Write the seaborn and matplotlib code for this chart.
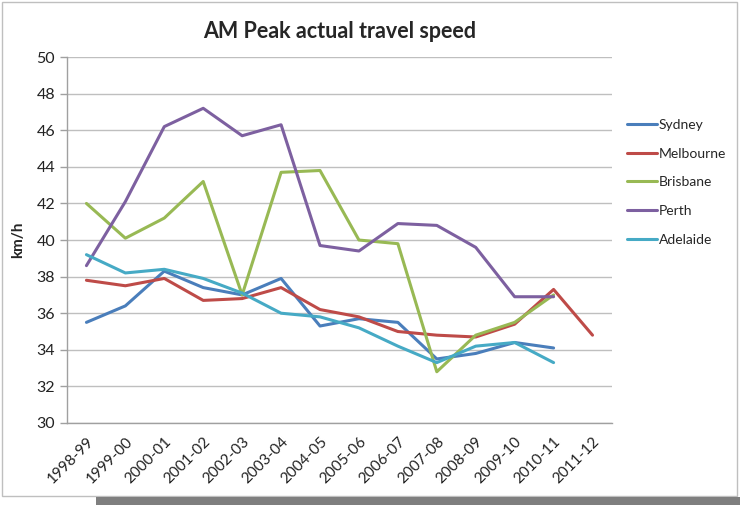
import matplotlib
matplotlib.use("Agg")
import matplotlib.pyplot as plt
import seaborn as sns
import pandas as pd
import numpy as np
from matplotlib.patches import Rectangle

years = ["1998-99", "1999-00", "2000-01", "2001-02", "2002-03", "2003-04", "2004-05",
         "2005-06", "2006-07", "2007-08", "2008-09", "2009-10", "2010-11", "2011-12"]

sydney = [35.5, 36.4, 38.3, 37.4, 37.0, 37.9, 35.3, 35.7, 35.5, 33.5, 33.8, 34.4, 34.1, None]
melbourne = [37.8, 37.5, 37.9, 36.7, 36.8, 37.4, 36.2, 35.8, 35.0, 34.8, 34.7, 35.4, 37.3, 34.8]
brisbane = [42.0, 40.1, 41.2, 43.2, 37.0, 43.7, 43.8, 40.0, 39.8, 32.8, 34.8, 35.5, 37.0, None]
perth = [38.6, 42.1, 46.2, 47.2, 45.7, 46.3, 39.7, 39.4, 40.9, 40.8, 39.6, 36.9, 36.9, None]
adelaide = [39.2, 38.2, 38.4, 37.9, 37.1, 36.0, 35.8, 35.2, 34.2, 33.3, 34.2, 34.4, 33.3, None]

cities = ["Sydney", "Melbourne", "Brisbane", "Perth", "Adelaide"]
series = [sydney, melbourne, brisbane, perth, adelaide]
colors = ["#4A7EBB", "#BE4B48", "#98B954", "#7D60A0", "#46AAC5"]

rows = []
for city, vals in zip(cities, series):
    for i, v in enumerate(vals):
        if v is not None:
            rows.append({"idx": i, "year": years[i], "city": city, "speed": v})
df = pd.DataFrame(rows)

sns.set_theme(style="white")
plt.rcParams['font.family'] = ['Lato', 'DejaVu Sans']

fig = plt.figure(figsize=(7.4, 5.05), dpi=100)
fig.patch.set_facecolor("white")
ax = fig.add_axes([0.0905, 0.1624, 0.7365, 0.7246])

sns.lineplot(data=df, x="idx", y="speed", hue="city", hue_order=cities,
             palette=colors, linewidth=2.2, ax=ax, legend=True)

ax.set_xlim(-0.5, len(years) - 0.5)
ax.set_ylim(30, 50)
ax.set_yticks(np.arange(30, 51, 2))
ax.set_xticks(range(len(years)))
ax.set_xticklabels(years, rotation=45, ha="right", rotation_mode="anchor")
ax.set_xticks(np.arange(-0.5, len(years), 1.0), minor=True)
ax.tick_params(axis="x", which="major", length=0, pad=8, labelsize=11, colors="#222222")
ax.tick_params(axis="x", which="minor", length=5, color="#A0A0A0", width=1)
ax.tick_params(axis="y", which="major", length=5, color="#A0A0A0", width=1, labelsize=11.5,
               colors="#222222", direction="out", left=True)
ax.yaxis.grid(True, color="#BFBFBF", linewidth=1)
ax.xaxis.grid(False)
for s in ["top", "right"]:
    ax.spines[s].set_visible(False)
for s in ["left", "bottom"]:
    ax.spines[s].set_color("#A0A0A0")
    ax.spines[s].set_linewidth(1)
ax.set_xlabel("")
ax.set_ylabel("km/h", fontsize=11, fontweight="bold", labelpad=8)
ax.set_title("AM Peak actual travel speed", fontsize=15.5, fontweight="bold", pad=14)

leg = ax.legend(loc="upper left", bbox_to_anchor=(1.004, 0.865), frameon=False,
                fontsize=10, handlelength=2.2, handletextpad=0.1, labelspacing=1.2)
for line in leg.get_lines():
    line.set_linewidth(2.2)

fig.add_artist(Rectangle((0.003, 0.018), 0.993, 0.978, transform=fig.transFigure,
                         fill=False, edgecolor="#BFBFBF", linewidth=1))
fig.add_artist(Rectangle((0.13, 0.0), 0.87, 0.016, transform=fig.transFigure,
                         facecolor="#7F7F7F", edgecolor="none"))

fig.savefig("out.png", dpi=100)
